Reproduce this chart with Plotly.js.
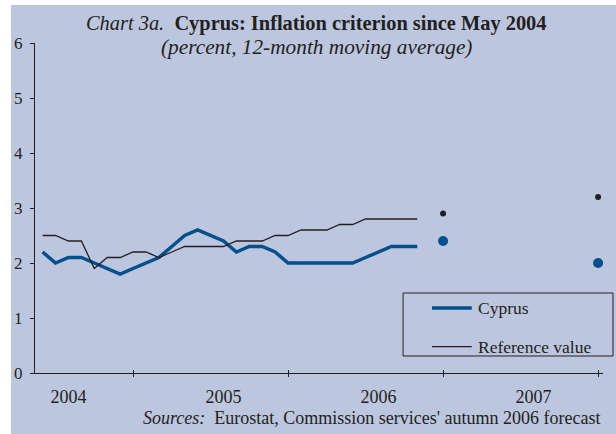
<!DOCTYPE html>
<html>
<head>
<meta charset="utf-8">
<script src="https://cdn.plot.ly/plotly-3.0.1.min.js"></script>
<style>
html,body{margin:0;padding:0;background:#ffffff;}
#chart{position:absolute;left:11px;top:5px;width:605px;height:429px;}
</style>
</head>
<body>
<div id="chart"></div>
<script>
// Monthly categories, May 2004 – Dec 2007
const months = [
  'May 2004','Jun 2004','Jul 2004','Aug 2004','Sep 2004','Oct 2004','Nov 2004','Dec 2004',
  'Jan 2005','Feb 2005','Mar 2005','Apr 2005','May 2005','Jun 2005','Jul 2005','Aug 2005','Sep 2005','Oct 2005','Nov 2005','Dec 2005',
  'Jan 2006','Feb 2006','Mar 2006','Apr 2006','May 2006','Jun 2006','Jul 2006','Aug 2006','Sep 2006','Oct 2006','Nov 2006','Dec 2006',
  'Jan 2007','Feb 2007','Mar 2007','Apr 2007','May 2007','Jun 2007','Jul 2007','Aug 2007','Sep 2007','Oct 2007','Nov 2007','Dec 2007'
];
// Observed months (May 2004 – Oct 2006)
const obsMonths = months.slice(0, 30);
const cyprus = [2.2,2.0,2.1,2.1,2.0,1.9,1.8,1.9,2.0,2.1,2.3,2.5,2.6,2.5,2.4,2.2,2.3,2.3,2.2,2.0,2.0,2.0,2.0,2.0,2.0,2.1,2.2,2.3,2.3,2.3];
const reference = [2.5,2.5,2.4,2.4,1.9,2.1,2.1,2.2,2.2,2.1,2.2,2.3,2.3,2.3,2.3,2.4,2.4,2.4,2.5,2.5,2.6,2.6,2.6,2.7,2.7,2.8,2.8,2.8,2.8,2.8];
// Forecasts
const forecastMonths = ['Dec 2006','Dec 2007'];
const cyprusForecast = [2.4, 2.0];
const referenceForecast = [2.9, 3.2];
// Axis labels
const yearLabelPos = ['Jul 2004','Jul 2005','Jul 2006','Jul 2007'];
const yearLabels = ['2004','2005','2006','2007'];
const yearBoundaries = ['Dec 2004','Dec 2005','Dec 2006','Dec 2007'];
const yTicks = [0,1,2,3,4,5,6];
const seriesNames = ['Cyprus','Reference value'];

const BG = '#bcc6df';
const INK = '#231f20';
const BLUE = '#00508c';
const FONT = 'Liberation Serif, Times New Roman, serif';
const xRange = [-0.59, 43.38];

const traces = [
  {x: obsMonths, y: cyprus, type:'scatter', mode:'lines', name: seriesNames[0],
   line:{color:BLUE, width:3.5}, xaxis:'x', yaxis:'y', showlegend:false},
  {x: obsMonths, y: reference, type:'scatter', mode:'lines', name: seriesNames[1],
   line:{color:INK, width:1.3}, xaxis:'x', yaxis:'y', showlegend:false},
  {x: forecastMonths, y: cyprusForecast, type:'scatter', mode:'markers', name: seriesNames[0]+' forecast',
   marker:{color:BLUE, size:10}, xaxis:'x2', yaxis:'y', showlegend:false},
  {x: forecastMonths, y: referenceForecast, type:'scatter', mode:'markers', name: seriesNames[1]+' forecast',
   marker:{color:INK, size:6}, xaxis:'x3', yaxis:'y', showlegend:false}
];

const catAxis = {type:'category', categoryorder:'array', categoryarray: months, range: xRange,
  showgrid:false, zeroline:false, fixedrange:true};

const legendX0 = 0.648, legendX1 = 1.0176, legendY0 = 0.0515, legendY1 = 0.2424;
const legendRows = [0.197, 0.0797];
const legendLineX = [0.699, 0.769];

const shapes = [
  {type:'rect', xref:'paper', yref:'paper', x0:legendX0, x1:legendX1, y0:legendY0, y1:legendY1,
   line:{color:INK, width:1}, fillcolor:'rgba(0,0,0,0)'},
  {type:'line', xref:'paper', yref:'paper', x0:legendLineX[0], x1:legendLineX[1], y0:legendRows[0], y1:legendRows[0],
   line:{color:BLUE, width:3.5}},
  {type:'line', xref:'paper', yref:'paper', x0:legendLineX[0], x1:legendLineX[1], y0:legendRows[1], y1:legendRows[1],
   line:{color:INK, width:1.3}}
];

const annotations = [
  {xref:'paper', yref:'paper', x:0.495, y:1.058, xanchor:'center', yanchor:'middle', showarrow:false,
   text:'<i>Chart 3a.</i>&nbsp; <b>Cyprus: Inflation criterion since May 2004</b>',
   font:{family:FONT, size:20.4, color:INK}},
  {xref:'paper', yref:'paper', x:0.495, y:0.987, xanchor:'center', yanchor:'middle', showarrow:false,
   text:'<i>(percent, 12-month moving average)</i>',
   font:{family:FONT, size:21.3, color:INK}},
  {xref:'paper', yref:'paper', x:1.0, y:-0.135, xanchor:'right', yanchor:'middle', showarrow:false,
   text:'<i>Sources:</i>&nbsp; Eurostat, Commission services\' autumn 2006 forecast',
   font:{family:FONT, size:18, color:INK}},
  {xref:'paper', yref:'paper', x:0.7764, y:legendRows[0], xanchor:'left', yanchor:'middle', showarrow:false,
   text:seriesNames[0], font:{family:FONT, size:17.5, color:INK}},
  {xref:'paper', yref:'paper', x:0.7764, y:legendRows[1], xanchor:'left', yanchor:'middle', showarrow:false,
   text:seriesNames[1], font:{family:FONT, size:17.5, color:INK}}
];

const layout = {
  width:605, height:429,
  margin:{l:24, r:13, t:38, b:61},
  paper_bgcolor:BG, plot_bgcolor:BG,
  showlegend:false,
  xaxis: Object.assign({}, catAxis, {
    tickmode:'array', tickvals: yearLabelPos, ticktext: yearLabels, ticks:'',
    showline:true, linecolor:INK, linewidth:1, ticklabelstandoff:7,
    tickfont:{family:FONT, size:18, color:INK}
  }),
  xaxis2: Object.assign({}, catAxis, {
    overlaying:'x', anchor:'y', side:'bottom',
    tickmode:'array', tickvals: yearBoundaries, ticks:'outside', ticklen:3, tickcolor:INK, tickwidth:1,
    showticklabels:false, showline:false
  }),
  xaxis3: Object.assign({}, catAxis, {
    overlaying:'x', anchor:'y', side:'bottom',
    tickmode:'array', tickvals: yearBoundaries, ticks:'inside', ticklen:3, tickcolor:INK, tickwidth:1,
    showticklabels:false, showline:false
  }),
  yaxis: {range:[0,6], tickmode:'array', tickvals:yTicks, ticks:'outside', ticklen:4, tickcolor:INK,
    showline:true, linecolor:INK, linewidth:1, showgrid:false, zeroline:false, fixedrange:true,
    ticklabelstandoff:4, tickfont:{family:FONT, size:17, color:INK}},
  shapes: shapes,
  annotations: annotations
};

Plotly.newPlot('chart', traces, layout, {displayModeBar:false, staticPlot:true});
</script>
</body>
</html>
